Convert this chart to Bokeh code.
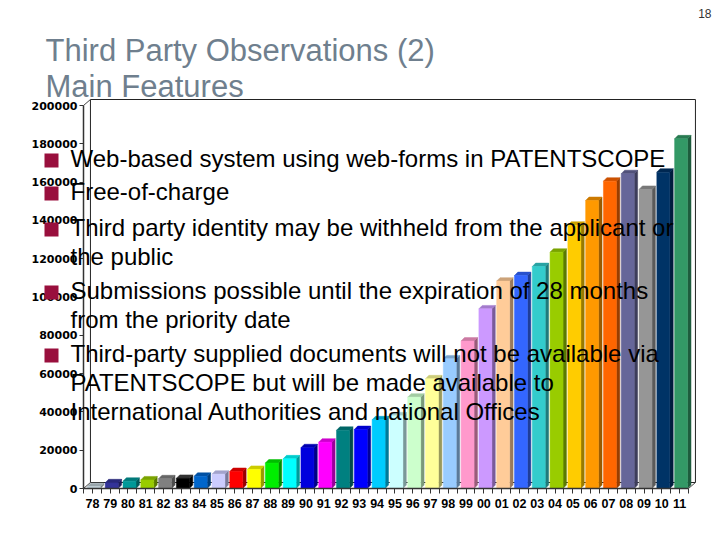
from bokeh.plotting import figure
from bokeh.models import (Range1d, LinearAxis, FixedTicker, BasicTickFormatter,
                          Label, BoxAnnotation, ColumnDataSource)
from bokeh.embed import file_html
from bokeh.resources import INLINE

# ---------------- data ----------------
years = ["78", "79", "80", "81", "82", "83", "84", "85", "86", "87", "88", "89",
         "90", "91", "92", "93", "94", "95", "96", "97", "98", "99", "00", "01",
         "02", "03", "04", "05", "06", "07", "08", "09", "10", "11"]
filings = [1000, 3000, 3800, 4500, 5100, 5300, 6400, 7500, 8900, 10000, 13300, 15500,
           21300, 24200, 30400, 30800, 35900, 38000, 47700, 57300, 67700, 77000, 93800, 108300,
           111200, 115900, 123400, 137500, 150400, 160500, 164400, 156200, 165200, 182600]
bar_colors = ["#C0D0D8", "#333399", "#009999", "#99CC00", "#808080", "#000000",
              "#0066CC", "#CCCCFF", "#FF0000", "#FFFF00", "#00EE00", "#00FFFF",
              "#0000DD", "#FF00FF", "#008080", "#0000FF", "#00CCFF", "#CCFFFF",
              "#CCFFCC", "#FFFF99", "#99CCFF", "#FF99CC", "#CC99FF", "#FFCC99",
              "#3366FF", "#33CCCC", "#99CC00", "#FFCC00", "#FF9900", "#FF6600",
              "#666699", "#969696", "#003366", "#339966"]
y_ticks = [0, 20000, 40000, 60000, 80000, 100000, 120000, 140000, 160000, 180000, 200000]

title_lines = ["Third Party Observations (2)", "Main Features"]
bullets = [
    ["Web-based system using web-forms in PATENTSCOPE"],
    ["Free-of-charge"],
    ["Third party identity may be withheld from the applicant or", "the public"],
    ["Submissions possible until the expiration of 28 months", "from the priority date"],
    ["Third-party supplied documents will not be available via",
     "PATENTSCOPE but will be made available to",
     "International Authorities and national Offices"],
]
page_number = "18"

# ---------------- geometry / style ----------------
N = len(years)
Y_MAX = 200000
WALL_DX, WALL_DY = 0.39, 3130      # depth of back wall
BAR_OFF, BAR_W = 0.22, 0.73        # front face of bars
BAR_DX, BAR_DY = 0.19, 1800        # depth of bars

W, H = 712, 532
AX_X, AX_Y = 83, 488               # pixel position of the chart origin
SXU = (688 - AX_X) / N             # pixels per category
SYU = (AX_Y - 105) / Y_MAX         # pixels per unit of value
BASE_SHIFT = 0.36                  # baseline correction (fraction of font size)


def dx(px):
    return (px - AX_X) / SXU


def dy(py):
    return (AX_Y - py) / SYU


def shade(hexcol, f):
    h = hexcol.lstrip("#")
    r, g, b = (int(h[i:i + 2], 16) for i in (0, 2, 4))
    return "#%02x%02x%02x" % (int(r * f), int(g * f), int(b * f))


def text_label(x_px, base_px, text, size, color, align="left"):
    return Label(x=dx(x_px), y=dy(base_px - BASE_SHIFT * size), text=text,
                 text_font="Liberation Sans", text_font_size="%gpx" % size,
                 text_color=color, text_baseline="alphabetic", text_align=align)


p = figure(width=W, height=H,
           x_range=Range1d(dx(0), dx(W)), y_range=Range1d(dy(H), dy(0)),
           output_backend="svg", toolbar_location=None,
           x_axis_type=None, y_axis_type=None, min_border=0)
p.outline_line_color = None
p.background_fill_color = "white"
p.border_fill_color = "white"

# ---------------- 3D box (walls, floor) ----------------
p.patch([WALL_DX, N + WALL_DX, N + WALL_DX, WALL_DX],
        [WALL_DY, WALL_DY, Y_MAX + WALL_DY, Y_MAX + WALL_DY],
        fill_color="white", line_color="#222222", line_width=1)
p.segment(x0=[0, N, 0], y0=[0, 0, Y_MAX],
          x1=[WALL_DX, N + WALL_DX, WALL_DX], y1=[WALL_DY, WALL_DY, Y_MAX + WALL_DY],
          line_color="#444444", line_width=1)

# ---------------- bars ----------------
x0 = [i + BAR_OFF for i in range(N)]
x1 = [v + BAR_W for v in x0]
front = ColumnDataSource(dict(left=x0, right=x1, top=filings, bottom=[0] * N,
                              color=bar_colors))
side_xs, side_ys, top_xs, top_ys = [], [], [], []
for a, b, v in zip(x0, x1, filings):
    side_xs.append([b, b + BAR_DX, b + BAR_DX, b])
    side_ys.append([0, BAR_DY, v + BAR_DY, v])
    top_xs.append([a, b, b + BAR_DX, a + BAR_DX])
    top_ys.append([v, v, v + BAR_DY, v + BAR_DY])
side = ColumnDataSource(dict(xs=side_xs, ys=side_ys,
                             color=[shade(c, 0.6) for c in bar_colors]))
topf = ColumnDataSource(dict(xs=top_xs, ys=top_ys,
                             color=[shade(c, 0.8) if c != "#000000" else "#333333"
                                    for c in bar_colors]))
p.patches("xs", "ys", source=side, fill_color="color", line_color="color", line_width=0.5)
p.patches("xs", "ys", source=topf, fill_color="color", line_color="color", line_width=0.5)
p.quad(left="left", right="right", top="top", bottom="bottom", source=front,
       fill_color="color", line_color="color", line_width=0.5)

# ---------------- axes ----------------
yax = LinearAxis(ticker=FixedTicker(ticks=y_ticks),
                 formatter=BasicTickFormatter(use_scientific=False),
                 fixed_location=0)
yax.bounds = (0, Y_MAX)
yax.axis_line_color = "#333333"
yax.axis_line_width = 1.5
yax.major_tick_out = 4
yax.major_tick_in = 0
yax.minor_tick_out = 0
yax.major_tick_line_color = "#333333"
yax.major_label_standoff = 2
yax.major_label_text_font = "DejaVu Sans"
yax.major_label_text_font_style = "bold"
yax.major_label_text_font_size = "11px"
yax.major_label_text_color = "black"
p.add_layout(yax, "left")

centers = [i + 0.5 for i in range(N)]
xax = LinearAxis(ticker=FixedTicker(ticks=centers, minor_ticks=list(range(N + 1))),
                 fixed_location=0)
xax.major_label_overrides = {c: y for c, y in zip(centers, years)}
xax.bounds = (0, N)
xax.axis_line_color = "#333333"
xax.axis_line_width = 1.5
xax.major_tick_out = 5
xax.major_tick_in = 0
xax.minor_tick_out = 5
xax.minor_tick_in = 0
xax.major_tick_line_color = "#333333"
xax.minor_tick_line_color = "#333333"
xax.major_label_standoff = 5
xax.major_label_text_font = "Liberation Sans"
xax.major_label_text_font_style = "bold"
xax.major_label_text_font_size = "12.5px"
xax.major_label_text_color = "black"
p.add_layout(xax, "below")

# ---------------- slide texts ----------------
for line, base in zip(title_lines, [61, 97]):
    p.add_layout(text_label(45, base, line, 31, "#6F7F8E"))

p.add_layout(text_label(711, 17, page_number, 12, "#333333", align="right"))

starts = [167, 200, 236, 299, 362]
for lines, base in zip(bullets, starts):
    c = base - 7
    p.add_layout(BoxAnnotation(left=dx(44), right=dx(58), bottom=dy(c + 7), top=dy(c - 7),
                               fill_color="#990F3D", fill_alpha=1.0, line_color=None))
    for k, line in enumerate(lines):
        p.add_layout(text_label(70, base + 29 * k, line, 24, "black"))

open("out.html", "w").write(file_html(p, INLINE))
